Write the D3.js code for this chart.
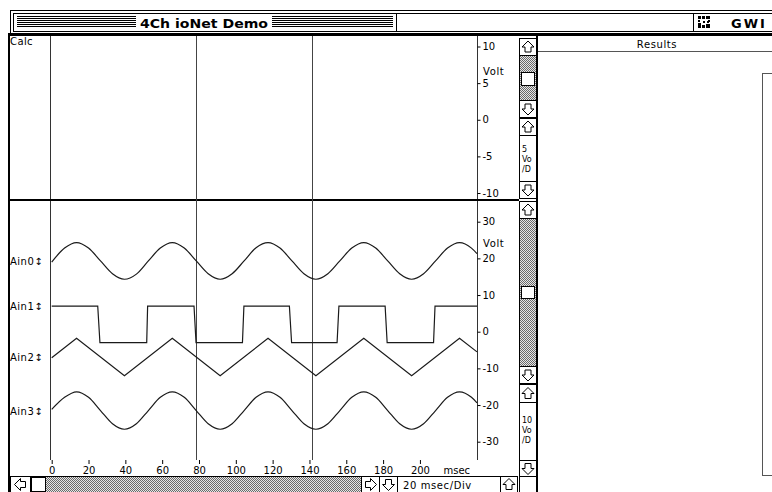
<!DOCTYPE html>
<html><head><meta charset="utf-8">
<script src="https://cdn.jsdelivr.net/npm/d3@7"></script>
<style>
html,body{margin:0;padding:0;background:#fff;overflow:hidden}
svg{display:block}
text{font-family:"DejaVu Sans",sans-serif;fill:#000}
</style></head><body>
<svg id="c" width="772" height="492"></svg>
<script>
// ---------- data ----------
const windowTitle = "4Ch ioNet Demo";
const appName = "GWI";
const resultsTitle = "Results";
const calcName = "Calc";
const channelNames = ["Ain0", "Ain1", "Ain2", "Ain3"];
const channelOffsets = [19.3, 7.0, -6.9, -21.5];      // Volt (lower panel scale)
const timeTicks = [0, 20, 40, 60, 80, 100, 120, 140, 160, 180, 200];
const calcTicks = [10, 5, 0, -5, -10];
const ainTicks = [30, 20, 10, 0, -10, -20, -30];
const cursorTimes = [78.5, 141.5];                     // msec
const timeUnit = "msec";
const voltUnit = "Volt";
const calcScaleLabel = ["5", "Vo", "/D"];
const ainScaleLabel = ["10", "Vo", "/D"];
const timebaseLabel = "20 msec/Div";

// Ain0 / Ain3 (sine-like) samples
const sineTimes = [0, 7, 13.5, 20, 26.5, 33, 39.5, 46, 52.5, 59, 65.5, 72, 78.5, 85, 91.5, 98,
  104.5, 111, 117.5, 124, 130.5, 137, 143.5, 150, 156.5, 163, 169.5, 176, 182.5, 189, 195.5,
  202, 208.5, 215, 221.5, 228, 231];
const ain0Values = [-0.3, 3.5, 5.0, 3.5, 0, -3.5, -5.0, -3.6, 0, 3.5, 5.0, 3.5, 0, -3.5, -5.0, -3.5,
  0, 3.6, 5.0, 3.5, 0, -3.5, -5.0, -3.5, 0, 3.5, 5.0, 3.5, 0, -3.5, -5.0,
  -3.5, 0, 3.5, 5.0, 3.5, 2.0];
const ain3Values = [0.3, 3.6, 5.1, 3.6, 0, -3.6, -5.1, -3.6, 0, 3.6, 5.1, 3.6, 0, -3.6, -5.1, -3.6,
  0, 3.6, 5.1, 3.6, 0, -3.6, -5.1, -3.6, 0, 3.6, 5.1, 3.6, 0, -3.6, -5.1,
  -3.6, 0, 3.6, 5.1, 3.6, 2.1];
// Ain2 (triangle) vertices
const triTimes = [0, 13.5, 39.5, 65.5, 91.5, 117.5, 143.5, 169.5, 195.5, 221.5, 231];
const ain2Values = [-0.2, 5.1, -5.1, 5.1, -5.1, 5.1, -5.1, 5.1, -5.1, 5.1, 1.4];
// Ain1 (square) corners
const sqTimes = [0, 25.0, 26.2, 51.6, 52.1, 77.3, 78.4, 103.6, 104.4, 129.1, 130.3, 155.0, 156.0,
  181.1, 182.2, 207.4, 208.2, 231];
const ain1Values = [0, 0, -10, -10, 0, 0, -10, -10, 0, 0, -10, -10, 0, 0, -10, -10, 0, 0];

// ---------- drawing ----------
const svg = d3.select("#c");
const W = 772, H = 492;
svg.append("rect").attr("width", W).attr("height", H).attr("fill", "#fff");

const defs = svg.append("defs");
const pat = defs.append("pattern").attr("id", "dither").attr("width", 2).attr("height", 2)
  .attr("patternUnits", "userSpaceOnUse");
pat.append("rect").attr("width", 2).attr("height", 2).attr("fill", "#e6e6e6");
pat.append("rect").attr("width", 1).attr("height", 1).attr("fill", "#6a6a6a");
pat.append("rect").attr("x", 1).attr("y", 1).attr("width", 1).attr("height", 1).attr("fill", "#6a6a6a");

const ui = svg.append("g").attr("shape-rendering", "crispEdges");

// title bar
ui.append("rect").attr("x", 10.5).attr("y", 10.5).attr("width", 770).attr("height", 23)
  .attr("fill", "#fff").attr("stroke", "#000");
ui.append("rect").attr("x", 13.5).attr("y", 13.5).attr("width", 383).attr("height", 18)
  .attr("fill", "#fff").attr("stroke", "#000");
ui.append("rect").attr("x", 396.5).attr("y", 13.5).attr("width", 297).attr("height", 18)
  .attr("fill", "#fff").attr("stroke", "#000");
ui.append("rect").attr("x", 693.5).attr("y", 13.5).attr("width", 90).attr("height", 18)
  .attr("fill", "#fff").attr("stroke", "#000");
// stripes
const stripeYs = d3.range(6).map(i => 16.5 + i * 2);
[[17, 136], [272, 393]].forEach(([a, b]) => {
  ui.selectAll(null).data(stripeYs).enter().append("line")
    .attr("x1", a).attr("x2", b).attr("y1", d => d).attr("y2", d => d)
    .attr("stroke", "#000");
});
svg.append("text").attr("x", 140).attr("y", 27.5).attr("font-weight", "bold")
  .attr("font-size", 13).attr("textLength", 128).attr("lengthAdjust", "spacingAndGlyphs")
  .text(windowTitle);
// icon
const icon = ui.append("g").attr("transform", "translate(698,16)");
[[0,0,3,3],[4,0,3,3],[8,0,4,3],[0,4,2,2],[10,4,2,2],[0,7,3,5],[4,9,3,3],[8,8,4,4],[9,5,2,2],[5,5,2,2]]
  .forEach(r => icon.append("rect").attr("x", r[0]).attr("y", r[1]).attr("width", r[2]).attr("height", r[3]).attr("fill", "#000"));
svg.append("text").attr("x", 731).attr("y", 27.5).attr("font-weight", "bold").attr("font-size", 13)
  .attr("letter-spacing", 2).text(appName);

// window frame
ui.append("rect").attr("x", 8).attr("y", 33).attr("width", 764).attr("height", 3).attr("fill", "#000");
ui.append("rect").attr("x", 8).attr("y", 33).attr("width", 2).attr("height", 459).attr("fill", "#000");

// ---------- scales ----------
const x = d3.scaleLinear().domain([0, 231]).range([51.7, 477]);
const yCalc = d3.scaleLinear().domain([-10, 10]).range([193, 46.5]);
const yAin = d3.scaleLinear().domain([-30, 30]).range([441.7, 221.7]);

const plotTop = 36, plotBottom = 460;

// panel borders
ui.append("line").attr("x1", 50.5).attr("x2", 50.5).attr("y1", plotTop).attr("y2", plotBottom).attr("stroke", "#333");
ui.append("line").attr("x1", 477.5).attr("x2", 477.5).attr("y1", plotTop).attr("y2", plotBottom).attr("stroke", "#333");
ui.append("rect").attr("x", 10).attr("y", 199).attr("width", 509).attr("height", 2).attr("fill", "#000");

// cursors
svg.append("g").selectAll("line").data(cursorTimes).enter().append("line")
  .attr("x1", d => Math.round(x(d)) + 0.5).attr("x2", d => Math.round(x(d)) + 0.5)
  .attr("y1", plotTop).attr("y2", plotBottom).attr("stroke", "#444").attr("stroke-width", 1);

// right axes
const fmt = d => String(d);
const axCalc = svg.append("g").attr("transform", "translate(477.5,0)")
  .call(d3.axisRight(yCalc).tickValues(calcTicks).tickSize(3).tickPadding(2).tickFormat(fmt));
const axAin = svg.append("g").attr("transform", "translate(477.5,0)")
  .call(d3.axisRight(yAin).tickValues(ainTicks).tickSize(3).tickPadding(2).tickFormat(fmt));
[axCalc, axAin].forEach(a => {
  a.select(".domain").remove();
  a.selectAll("line").attr("stroke", "#000");
  a.selectAll("text").attr("font-family", "DejaVu Sans").attr("font-size", 10).attr("fill", "#000");
});
svg.append("text").attr("x", 483).attr("y", yCalc(6.6) + 4).attr("font-size", 10).attr("letter-spacing", 0.6).text(voltUnit);
svg.append("text").attr("x", 483).attr("y", yAin(24.3) + 4).attr("font-size", 10).attr("letter-spacing", 0.6).text(voltUnit);

// x axis
const axX = svg.append("g").attr("transform", `translate(0,${plotBottom})`)
  .call(d3.axisBottom(x).tickValues(timeTicks).tickSize(4).tickPadding(3).tickFormat(fmt));
axX.select(".domain").remove();
axX.selectAll("line").attr("stroke", "#000");
axX.selectAll("text").attr("font-family", "DejaVu Sans").attr("font-size", 10).attr("fill", "#000");
svg.append("text").attr("x", x(220)).attr("y", plotBottom + 14).attr("text-anchor", "middle")
  .attr("font-size", 10).text(timeUnit);

// traces
const sineLine = d3.line().curve(d3.curveMonotoneX);
const linLine = d3.line();
function trace(times, vals, off, gen) {
  const pts = times.map((t, i) => [x(t), yAin(vals[i] + off)]);
  svg.append("path").attr("d", gen(pts)).attr("fill", "none").attr("stroke", "#1a1a1a").attr("stroke-width", 1.2);
}
trace(sineTimes, ain0Values, channelOffsets[0], sineLine);
trace(sqTimes, ain1Values, channelOffsets[1], linLine);
trace(triTimes, ain2Values, channelOffsets[2], linLine);
trace(sineTimes, ain3Values, channelOffsets[3], sineLine);

// left labels
svg.append("text").attr("x", 10).attr("y", 45).attr("font-size", 10).attr("letter-spacing", 0.4).text(calcName);
svg.append("g").selectAll("text").data(channelNames).enter().append("text")
  .attr("x", 10).attr("y", (d, i) => yAin(channelOffsets[i]) + 4)
  .attr("font-size", 10).attr("letter-spacing", 0.5).text(d => d + "\u2195");

// ---------- scroll bars ----------
function arrowPath(cx, cy, dir) {
  const base = [[0, -6], [6, 0], [3, 0], [3, 5], [-3, 5], [-3, 0], [-6, 0]];
  const m = { up: p => p, down: p => [p[0], -p[1]], left: p => [p[1], p[0]], right: p => [-p[1], p[0]] }[dir];
  return "M" + base.map(p => { const q = m(p); return [cx + q[0], cy + q[1]]; }).join("L") + "Z";
}
function arrowBox(x0, y0, w, h, dir) {
  ui.append("rect").attr("x", x0 + 0.5).attr("y", y0 + 0.5).attr("width", w - 1).attr("height", h - 1)
    .attr("fill", "#fff").attr("stroke", "#000");
  svg.append("path").attr("d", arrowPath(x0 + w / 2, y0 + h / 2, dir)).attr("fill", "#fff")
    .attr("stroke", "#000").attr("stroke-width", 1);
}
function track(x0, y0, w, h) {
  ui.append("rect").attr("x", x0 + 0.5).attr("y", y0 + 0.5).attr("width", w - 1).attr("height", h - 1)
    .attr("fill", "url(#dither)").attr("stroke", "#000");
}
function thumb(x0, y0, w, h) {
  ui.append("rect").attr("x", x0 + 0.5).attr("y", y0 + 0.5).attr("width", w - 1).attr("height", h - 1)
    .attr("fill", "#fff").attr("stroke", "#000");
}
function labelBox(x0, y0, w, h, lines, ys) {
  ui.append("rect").attr("x", x0 + 0.5).attr("y", y0 + 0.5).attr("width", w - 1).attr("height", h - 1)
    .attr("fill", "#fff").attr("stroke", "#000");
  lines.forEach((l, i) => svg.append("text").attr("x", x0 + 3).attr("y", ys[i]).attr("font-size", 8).text(l));
}
const sx = 519, sw = 18;
// upper column
arrowBox(sx, 38, sw, 18, "up");
track(sx, 55, sw, 46);
thumb(sx + 2, 72, sw - 4, 14);
arrowBox(sx, 100, sw, 18, "down");
arrowBox(sx, 118, sw, 18, "up");
labelBox(sx, 135, sw, 47, calcScaleLabel, [152, 162, 172]);
arrowBox(sx, 181, sw, 18, "down");
// lower column
arrowBox(sx, 201, sw, 18, "up");
track(sx, 218, sw, 149);
thumb(sx + 2, 286, sw - 4, 13);
arrowBox(sx, 366, sw, 18, "down");
arrowBox(sx, 384, sw, 19, "up");
labelBox(sx, 402, sw, 59, ainScaleLabel, [423, 433, 443]);
arrowBox(sx, 460, sw, 17, "down");
ui.append("rect").attr("x", sx + 0.5).attr("y", 476.5).attr("width", sw - 1).attr("height", 20).attr("fill", "#fff").attr("stroke", "#000");
ui.append("rect").attr("x", 536).attr("y", 33).attr("width", 2).attr("height", 459).attr("fill", "#000");
// bottom row
arrowBox(10, 476, 21, 17, "left");
track(30, 476, 332, 17);
thumb(31, 477, 15, 15);
arrowBox(361, 476, 19, 17, "right");
arrowBox(379, 476, 19, 17, "down");
ui.append("rect").attr("x", 397.5).attr("y", 476.5).attr("width", 103).attr("height", 20).attr("fill", "#fff").attr("stroke", "#000");
svg.append("text").attr("x", 403).attr("y", 489).attr("font-size", 10).attr("letter-spacing", 0.6).text(timebaseLabel);
arrowBox(500, 476, 18, 17, "up");

// ---------- results panel ----------
svg.append("text").attr("x", 657).attr("y", 48).attr("text-anchor", "middle").attr("font-size", 10)
  .attr("letter-spacing", 0.6).text(resultsTitle);
ui.append("line").attr("x1", 538).attr("x2", 772).attr("y1", 51.5).attr("y2", 51.5).attr("stroke", "#555");
ui.append("path").attr("d", "M772,73.5H762.5V475.5H772").attr("fill", "none").attr("stroke", "#555");
</script>
</body></html>
